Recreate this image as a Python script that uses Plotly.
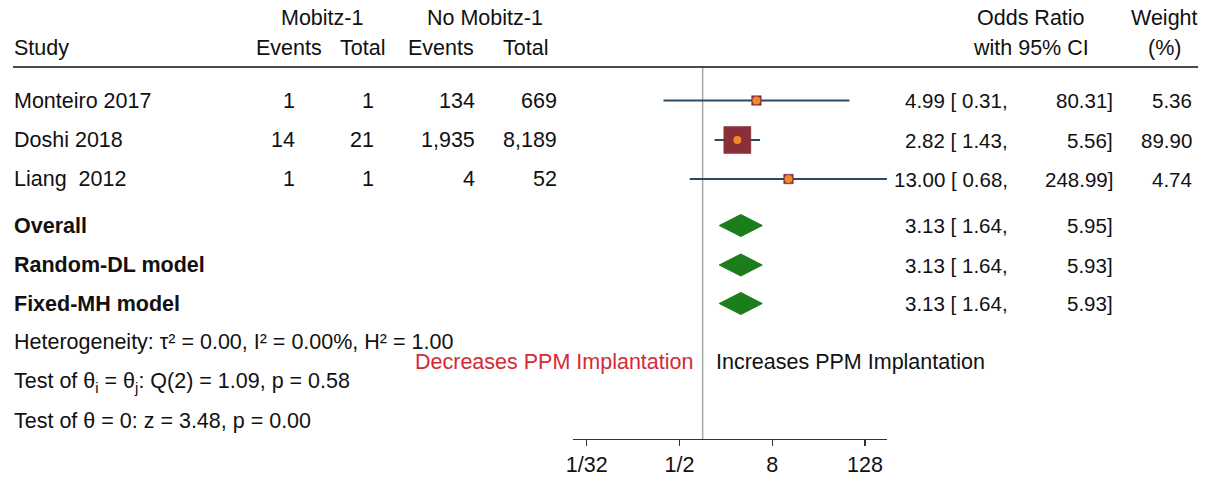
import math
import plotly.graph_objects as go

# ---------------- data ----------------
studies = ["Monteiro 2017", "Doshi 2018", "Liang  2012"]
mob_events = [1, 14, 1]
mob_total = [1, 21, 1]
nomob_events = [134, 1935, 4]
nomob_total = [669, 8189, 52]
or_est = [4.99, 2.82, 13.00]
ci_lo = [0.31, 1.43, 0.68]
ci_hi = [80.31, 5.56, 248.99]
weights = [5.36, 89.90, 4.74]

summary_labels = ["Overall", "Random-DL model", "Fixed-MH model"]
sum_est = [3.13, 3.13, 3.13]
sum_lo = [1.64, 1.64, 1.64]
sum_hi = [5.95, 5.93, 5.93]

tick_vals = [1/32, 1/2, 8, 128]
tick_text = ["1/32", "1/2", "8", "128"]

stats_lines = [
    "Heterogeneity: τ² = 0.00, I² = 0.00%, H² = 1.00",
    "Test of θ<sub>i</sub> = θ<sub>j</sub>: Q(2) = 1.09, p = 0.58",
    "Test of θ = 0: z = 3.48, p = 0.00",
]

# ---------------- layout constants (pixels) ----------------
W, H = 1214, 477
FONT = "Liberation Sans, Arial, Helvetica, sans-serif"
FS = 21.5
FS_NUM = 20.5
study_y = [100.5, 140, 179]
sum_y = [225.5, 265, 303.5]
stats_y = [342, 382, 421]
axis_y = 439
header_line_y = 67
ax_px = (569, 885)
x_range = [-1.686, 2.391]

NAVY = "#2b4a66"
MAROON = "#8a2e38"
ORANGE = "#ec8a2c"
GREEN = "#1b7d1b"
GREY = "#a8a8a8"
TXT = "#111111"


def px(x):
    return x / W


def fmt(n):
    return f"{n:,}"


fig = go.Figure()

# CI lines
for i in range(len(studies)):
    fig.add_trace(go.Scatter(x=[ci_lo[i], ci_hi[i]], y=[study_y[i]] * 2, mode="lines",
                             line=dict(color=NAVY, width=2), hoverinfo="skip", showlegend=False))

# weight squares
wmax = max(weights)
sizes = [max(9.5, 27 * math.sqrt(w / wmax)) for w in weights]
fig.add_trace(go.Scatter(x=or_est, y=study_y, mode="markers",
                         marker=dict(symbol="square", size=sizes, color=MAROON, opacity=1,
                                     line=dict(color="#7a2a2a", width=0.5)),
                         hoverinfo="skip", showlegend=False))
fig.add_trace(go.Scatter(x=or_est, y=study_y, mode="markers",
                         marker=dict(symbol="circle", size=8, color=ORANGE, opacity=1, line=dict(width=0)),
                         hoverinfo="skip", showlegend=False))

# summary diamonds
half_h = 11
for i in range(len(summary_labels)):
    yy = sum_y[i]
    fig.add_trace(go.Scatter(x=[sum_lo[i], sum_est[i], sum_hi[i], sum_est[i], sum_lo[i]],
                             y=[yy, yy - half_h, yy, yy + half_h, yy],
                             mode="lines", fill="toself", fillcolor=GREEN,
                             line=dict(color=GREEN, width=1), hoverinfo="skip", showlegend=False))

shapes = [
    dict(type="line", xref="x", yref="y", x0=1, x1=1, y0=header_line_y, y1=axis_y,
         line=dict(color=GREY, width=1.5), layer="below"),
    dict(type="line", xref="paper", yref="y", x0=px(6), x1=px(1198), y0=header_line_y, y1=header_line_y,
         line=dict(color=TXT, width=1.5)),
]

ann = []


def T(x, y, text, anchor="left", color=TXT, size=FS):
    ann.append(dict(x=px(x), y=y, xref="paper", yref="y", text=text, showarrow=False,
                    xanchor=anchor, yanchor="middle", borderpad=0,
                    font=dict(family=FONT, size=size, color=color)))


LX = 6
# headers
T(317, 18, "Mobitz-1", "center")
T(481, 18, "No Mobitz-1", "center")
T(LX, 48, "Study")
T(284, 48, "Events", "center")
T(358, 48, "Total", "center")
T(437, 48, "Events", "center")
T(522, 48, "Total", "center")
T(1030, 18, "Odds Ratio", "center")
T(1030, 48, "with 95% CI", "center")
T(1164, 18, "Weight", "center")
T(1164, 48, "(%)", "center")

for i, s in enumerate(studies):
    y = study_y[i]
    T(LX, y, s.replace("  ", "\u00a0 "))
    T(291, y, fmt(mob_events[i]), "right")
    T(370, y, fmt(mob_total[i]), "right")
    T(472, y, fmt(nomob_events[i]), "right")
    T(554, y, fmt(nomob_total[i]), "right")
    T(1008, y, f"{or_est[i]:.2f} [ {ci_lo[i]:.2f},", "right", size=FS_NUM)
    T(1113, y, f"{ci_hi[i]:.2f}]", "right", size=FS_NUM)
    T(1193, y, f"{weights[i]:.2f}", "right", size=FS_NUM)

for i, s in enumerate(summary_labels):
    y = sum_y[i]
    T(LX, y, f"<b>{s}</b>")
    T(1008, y, f"{sum_est[i]:.2f} [ {sum_lo[i]:.2f},", "right", size=FS_NUM)
    T(1113, y, f"{sum_hi[i]:.2f}]", "right", size=FS_NUM)

for i, s in enumerate(stats_lines):
    T(LX, stats_y[i], s)

T(691, 362, "Decreases PPM Implantation", "right", color="#d42a36")
T(712, 362, "Increases PPM Implantation", "left")

fig.update_layout(
    width=W, height=H,
    margin=dict(l=0, r=0, t=0, b=0),
    paper_bgcolor="white", plot_bgcolor="rgba(0,0,0,0)",
    font=dict(family=FONT, size=FS, color=TXT),
    shapes=shapes, annotations=ann,
    xaxis=dict(type="log", domain=[px(ax_px[0]), px(ax_px[1])], range=x_range,
               anchor="free", position=1 - axis_y / H,
               showline=True, linecolor="#333333", linewidth=1.2,
               ticks="outside", ticklen=6, tickcolor="#333333", tickwidth=1.2,
               tickvals=tick_vals, ticktext=tick_text, tickfont=dict(size=FS, color=TXT),
               showgrid=False, zeroline=False, fixedrange=True),
    yaxis=dict(range=[H, 0], domain=[0, 1], visible=False, showgrid=False, zeroline=False,
               fixedrange=True),
)

fig.write_html(
    "out.html",
    config={"displayModeBar": False, "staticPlot": True},
    post_script="document.body.style.margin='0px';document.body.style.padding='0px';"
                "document.documentElement.style.overflow='hidden';",
)
